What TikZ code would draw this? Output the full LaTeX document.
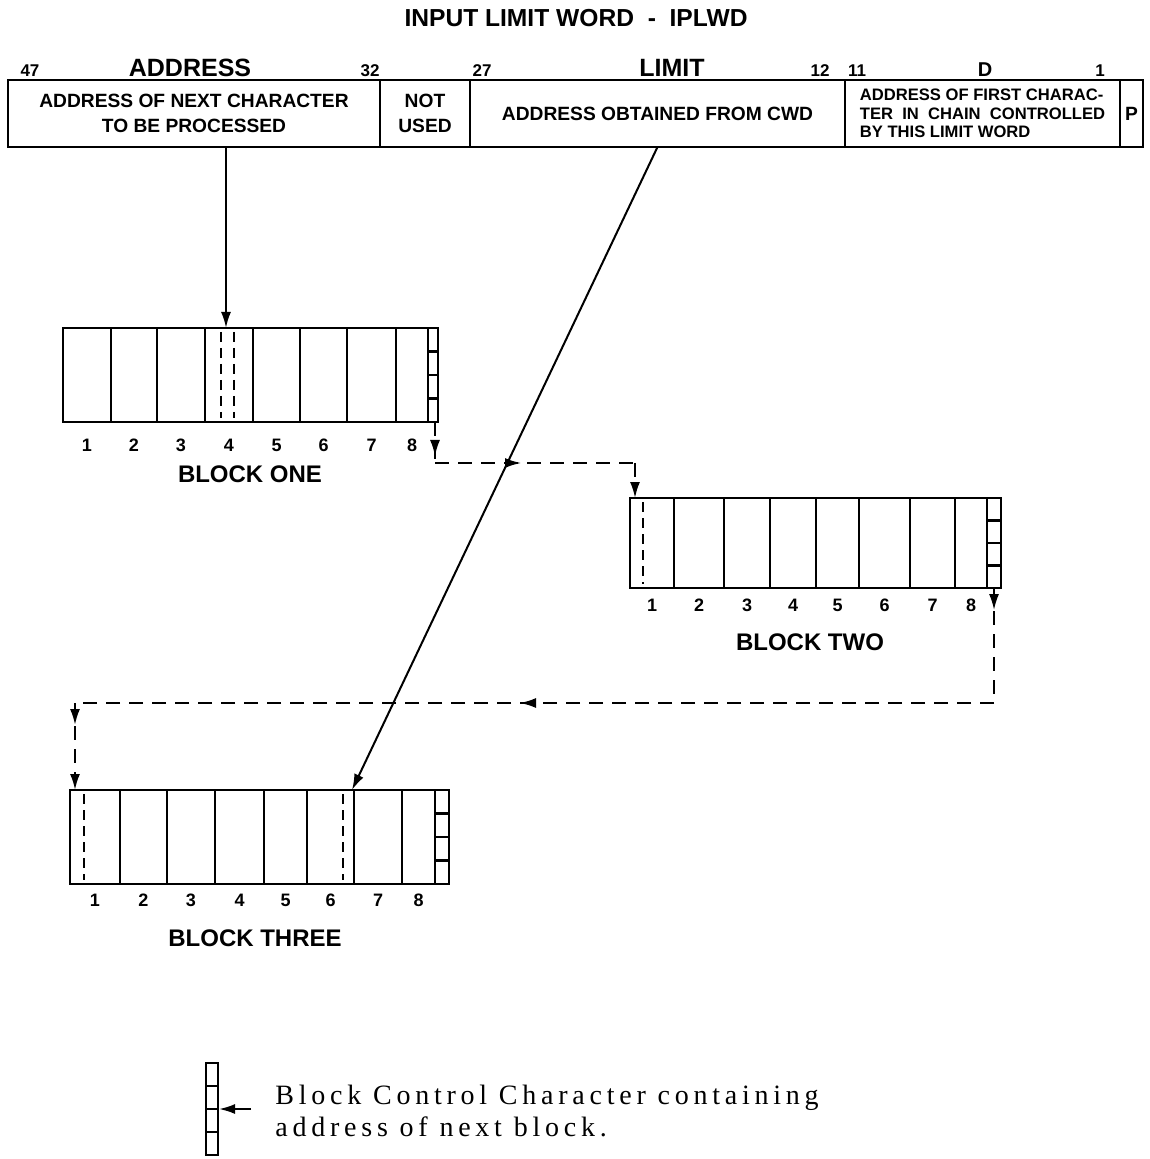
\documentclass[tikz,border=0pt]{standalone}
\usepackage{fontspec}
\setsansfont{Liberation Sans}
\newfontfamily\legendfont[LetterSpace=17]{Liberation Serif}
\usetikzlibrary{positioning, arrows.meta, decorations.markings}

\begin{document}
\begin{tikzpicture}[
    x=0.5pt, y=-0.5pt,
    wordcell/.style={
        rectangle,
        draw,
        line width=1pt,
        inner sep=0pt,
        outer sep=0pt,
        minimum height=33.5pt,
        align=center,
        font=\sffamily\bfseries\fontsize{9.6}{12.5}\selectfont,
    },
    fieldlabel/.style={anchor=base, inner sep=0pt, font=\sffamily\bfseries\fontsize{12.5}{14}\selectfont},
    bitlabel/.style={anchor=base, inner sep=0pt, font=\sffamily\bfseries\fontsize{8.5}{10}\selectfont},
    cellnum/.style={inner sep=0pt, font=\sffamily\bfseries\fontsize{9}{10}\selectfont},
    blockname/.style={inner sep=0pt, font=\sffamily\bfseries\fontsize{12}{14}\selectfont},
    blockline/.style={line width=1.1pt},
    charmark/.style={line width=0.9pt, dash pattern=on 5pt off 3pt},
    link/.style={-{Latex[length=8pt, width=5pt]}, line width=1pt},
    chain/.style={line width=0.9pt, dash pattern=on 7pt off 4.5pt},
    tipat/.style={postaction={decorate}, decoration={markings,
        mark=at position #1 with {\arrow{Latex[length=8pt, width=5pt]}}}},
]
\useasboundingbox (0,0) rectangle (1149,1159);

% limit word
\node[font=\sffamily\bfseries\fontsize{12.3}{14}\selectfont] (title) at (576,18) {INPUT LIMIT WORD \ - \ IPLWD};

\node[wordcell, minimum width=186pt] (addr) at (194,113.5) {ADDRESS OF NEXT CHARACTER\\TO BE PROCESSED};
\node[wordcell, minimum width=45pt, right=0pt of addr] (unused) {NOT\\USED};
\node[wordcell, minimum width=187.5pt, right=0pt of unused] (limit) {ADDRESS OBTAINED FROM CWD};
\node[wordcell, minimum width=137.5pt, right=0pt of limit, align=left,
      font=\sffamily\bfseries\fontsize{8.3}{9.2}\selectfont] (dfield) {ADDRESS OF FIRST CHARAC-\\TER \ IN \ CHAIN \ CONTROLLED\\BY THIS LIMIT WORD};
\node[wordcell, minimum width=11.5pt, right=0pt of dfield] (pbit) {P};

\node[bitlabel] (b47) at (30,77) {47};
\node[fieldlabel] (addrname) at (190,77) {ADDRESS};
\node[bitlabel] (b32) at (370,77) {32};
\node[bitlabel] (b27) at (482,77) {27};
\node[fieldlabel] (limitname) at (672,77) {LIMIT};
\node[bitlabel] (b12) at (820,77) {12};
\node[bitlabel] (b11) at (857,77) {11};
\node[fieldlabel, font=\sffamily\bfseries\fontsize{10}{12}\selectfont] (dname) at (985,77) {D};
\node[bitlabel] (b1) at (1100,77) {1};

% block one
\draw[blockline] (63,328) rectangle (438,422);
\foreach \xa/\xb [count=\n] in {63/111, 111/157, 157/205, 205/253, 253/300, 300/347, 347/396, 396/428} {
    \draw[blockline] (\xb,328) -- (\xb,422);
    \node[cellnum] (b1n\n) at ({(\xa+\xb)/2},445) {\n};
}
\foreach \yy in {351.5, 375, 398.5}
    \draw[blockline] (428,\yy) -- (438,\yy);
\draw[charmark] (221,332) -- (221,418);
\draw[charmark] (234,332) -- (234,418);
\node[blockname] (b1name) at (250,474) {BLOCK ONE};

% block two
\draw[blockline] (630,498) rectangle (1001,588);
\foreach \xa/\xb [count=\n] in {630/674, 674/724, 724/770, 770/816, 816/859, 859/910, 910/955, 955/987} {
    \draw[blockline] (\xb,498) -- (\xb,588);
    \node[cellnum] (b2n\n) at ({(\xa+\xb)/2},605) {\n};
}
\foreach \yy in {520.5, 543, 565.5}
    \draw[blockline] (987,\yy) -- (1001,\yy);
\draw[charmark] (643,502) -- (643,584);
\node[blockname] (b2name) at (810,642) {BLOCK TWO};

% block three
\draw[blockline] (70,790) rectangle (449,884);
\foreach \xa/\xb [count=\n] in {70/120, 120/167, 167/215, 215/264, 264/307, 307/354, 354/402, 402/435} {
    \draw[blockline] (\xb,790) -- (\xb,884);
    \node[cellnum] (b3n\n) at ({(\xa+\xb)/2},900) {\n};
}
\foreach \yy in {813.5, 837, 860.5}
    \draw[blockline] (435,\yy) -- (449,\yy);
\draw[charmark] (84,794) -- (84,880);
\draw[charmark] (343,794) -- (343,880);
\node[blockname] (b3name) at (255,938) {BLOCK THREE};

% pointers
\coordinate (b1four) at (226,328);
\coordinate (b3six) at (352,790);
\draw[link] (addr.south -| b1four) -- (b1four);
\draw[link] (limit.south) -- (b3six);

% chain from block to block
\coordinate (b1ctl) at (435,422);
\coordinate (b1turn) at (435,463);
\coordinate (b2turn) at (635,463);
\coordinate (b2one) at (635,498);
\draw[chain, tipat=17pt] (b1ctl) -- (b1turn);
\draw[chain, tipat=43pt] (b1turn) -- (b2turn);
\draw[chain, link] (b2turn) -- (b2one);

\coordinate (b2ctl) at (994,588);
\coordinate (b2turn2) at (994,703);
\coordinate (b3turn) at (75,703);
\coordinate (b3one) at (75,790);
\draw[chain, tipat=11pt] (b2ctl) -- (b2turn2);
\draw[chain, tipat=237pt] (b2turn2) -- (b3turn);
\draw[chain, link, tipat=11pt] (b3turn) -- (b3one);

% key
\node[draw, line width=1pt, inner sep=0pt, minimum width=6pt, minimum height=46pt] (keybox) at (212,1109) {};
\foreach \yy in {1086, 1109, 1132}
    \draw[line width=1pt] (206,\yy) -- (218,\yy);
\node[anchor=west, inner xsep=12pt, inner ysep=0pt, align=left,
      font=\legendfont\fontsize{14}{16}\selectfont] (keytext) at (251,1111)
    {Block Control Character containing\\address of next block.};
\draw[link] (keytext.west |- keybox.east) -- (keybox.east);

\end{tikzpicture}
\end{document}
